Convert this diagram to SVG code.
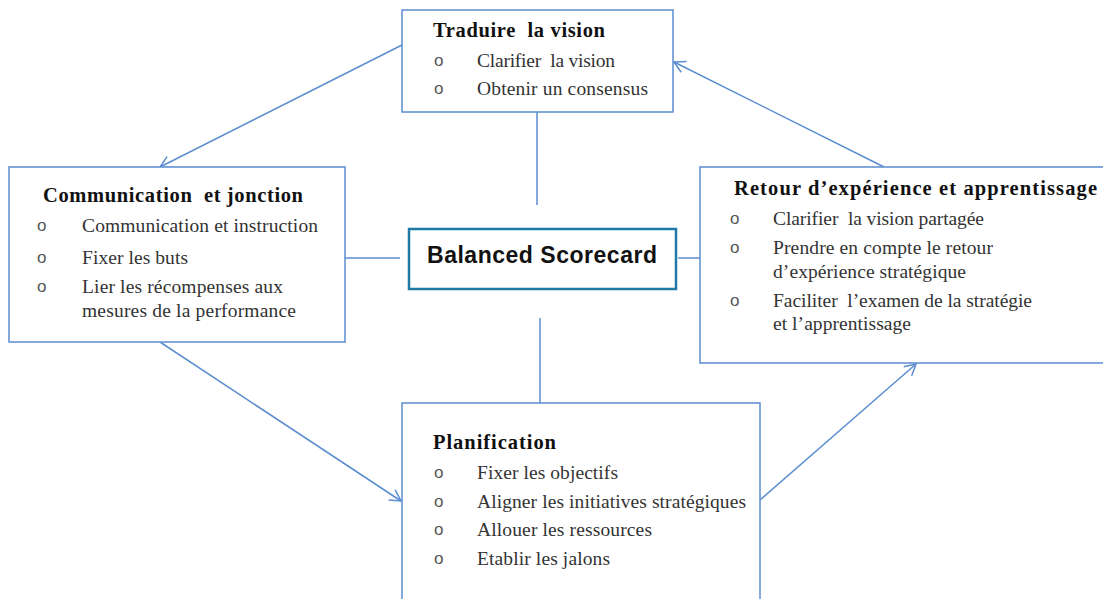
<svg xmlns="http://www.w3.org/2000/svg" width="1103" height="599" viewBox="0 0 1103 599">
<defs>
<style>
.box{fill:#fff;stroke:#5b8dd0;stroke-width:1.5}
.ttl{font-family:"Liberation Serif",serif;font-weight:bold;font-size:20.5px;fill:#111}
.it{font-family:"Liberation Serif",serif;font-size:19.5px;fill:#333}
.bl{font-family:"Liberation Sans",sans-serif;font-size:17px;fill:#555}
.con{stroke:#5b8dd0;stroke-width:1.5;fill:none}
.bsc{font-family:"Liberation Sans",Arial,sans-serif;font-weight:bold;font-size:23px;fill:#111}
</style>
<marker id="arr" markerWidth="14" markerHeight="14" refX="12" refY="7" orient="auto" markerUnits="userSpaceOnUse">
<path d="M1,1 L12,7 L1,13" fill="none" stroke="#5b8dd0" stroke-width="1.5"/>
</marker>
</defs>
<rect width="1103" height="599" fill="#fff"/>
<g id="connectors">
<line class="con" x1="537" y1="112" x2="537" y2="205"/>
<line class="con" x1="540" y1="318" x2="540" y2="403"/>
<line class="con" x1="345" y1="258" x2="400" y2="258"/>
<line class="con" x1="678" y1="258" x2="700" y2="258"/>
<line class="con" x1="402" y1="45" x2="160" y2="167" marker-end="url(#arr)"/>
<line class="con" x1="160" y1="342" x2="401" y2="501" marker-end="url(#arr)"/>
<line class="con" x1="760" y1="500" x2="916" y2="364" marker-end="url(#arr)"/>
<line class="con" x1="884" y1="167" x2="674" y2="62" marker-end="url(#arr)"/>
</g>
<g id="traduire">
<rect class="box" x="402" y="10" width="271" height="102"/>
<text class="ttl" x="433" y="37" textLength="172" xml:space="preserve">Traduire  la vision</text>
<text class="bl" x="434" y="66">o</text>
<text class="it" x="477" y="67" textLength="138" xml:space="preserve">Clarifier  la vision</text>
<text class="bl" x="434" y="94">o</text>
<text class="it" x="477" y="95" textLength="171">Obtenir un consensus</text>
</g>
<g id="communication">
<rect class="box" x="9" y="167" width="336" height="175"/>
<text class="ttl" x="43" y="202" textLength="260" xml:space="preserve">Communication  et jonction</text>
<text class="bl" x="37" y="231">o</text>
<text class="it" x="82" y="232" textLength="236">Communication et instruction</text>
<text class="bl" x="37" y="263">o</text>
<text class="it" x="82" y="264" textLength="106">Fixer les buts</text>
<text class="bl" x="37" y="292">o</text>
<text class="it" x="82" y="293" textLength="201">Lier les récompenses aux</text>
<text class="it" x="82" y="317" textLength="214">mesures de la performance</text>
</g>
<g id="retour">
<rect class="box" x="700" y="167" width="410" height="196"/>
<text class="ttl" x="734" y="195" textLength="363">Retour d’expérience et apprentissage</text>
<text class="bl" x="730" y="224">o</text>
<text class="it" x="773" y="225" textLength="211" xml:space="preserve">Clarifier  la vision partagée</text>
<text class="bl" x="730" y="253">o</text>
<text class="it" x="773" y="254" textLength="220">Prendre en compte le retour</text>
<text class="it" x="773" y="278" textLength="193">d’expérience stratégique</text>
<text class="bl" x="730" y="306">o</text>
<text class="it" x="773" y="307" textLength="259" xml:space="preserve">Faciliter  l’examen de la stratégie</text>
<text class="it" x="773" y="330" textLength="138">et l’apprentissage</text>
</g>
<g id="planification">
<rect class="box" x="402" y="403" width="358" height="210"/>
<text class="ttl" x="433" y="449" textLength="123">Planification</text>
<text class="bl" x="434" y="478">o</text>
<text class="it" x="477" y="479" textLength="141">Fixer les objectifs</text>
<text class="bl" x="434" y="507">o</text>
<text class="it" x="477" y="508" textLength="269">Aligner les initiatives stratégiques</text>
<text class="bl" x="434" y="535">o</text>
<text class="it" x="477" y="536" textLength="175">Allouer les ressources</text>
<text class="bl" x="434" y="564">o</text>
<text class="it" x="477" y="565" textLength="133">Etablir les jalons</text>
</g>
<g id="bsc">
<rect x="409" y="229" width="267" height="60" fill="#fff" stroke="#1f7ba6" stroke-width="2.5"/>
<text class="bsc" x="427" y="263" textLength="230">Balanced Scorecard</text>
</g>
</svg>
